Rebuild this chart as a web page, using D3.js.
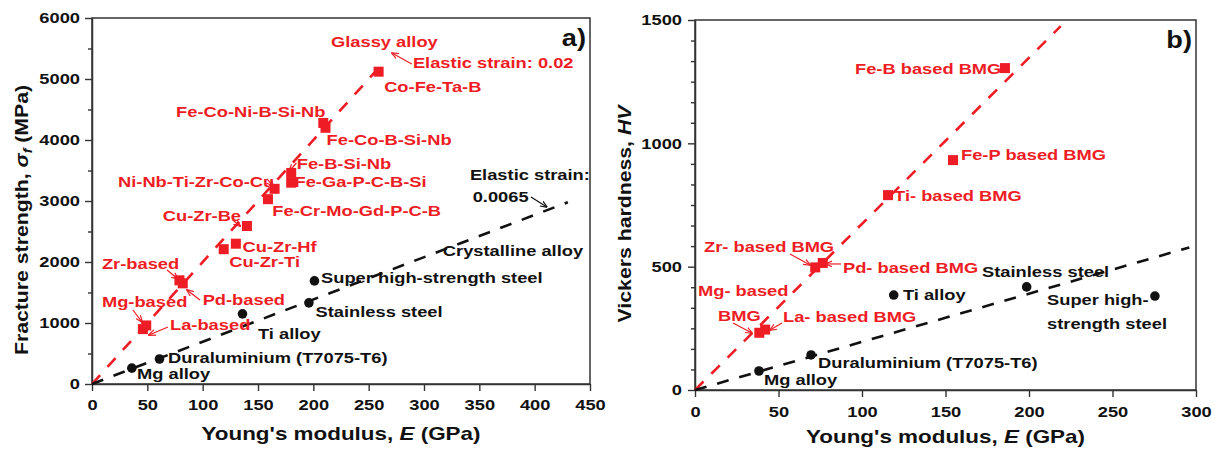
<!DOCTYPE html>
<html>
<head>
<meta charset="utf-8">
<script src="https://cdn.jsdelivr.net/npm/d3@7"></script>
<style>
  body { margin: 0; background: #fff; }
  svg text { font-family: "Liberation Sans", Arial, sans-serif; font-weight: bold; }
</style>
</head>
<body>
<script>
// ---- DATA ------------------------------------------------------------------

// panel a) fracture strength vs Young's modulus
const glassyNamesA = ["Mg-based", "La-based", "Zr-based", "Pd-based", "Cu-Zr-Ti", "Cu-Zr-Hf", "Cu-Zr-Be",
  "Fe-Cr-Mo-Gd-P-C-B", "Ni-Nb-Ti-Zr-Co-Cu", "Fe-Ga-P-C-B-Si", "Fe-B-Si-Nb", "Fe-Co-Ni-B-Si-Nb", "Fe-Co-B-Si-Nb", "Co-Fe-Ta-B"];
const glassyEA = [46, 49, 79, 82, 119, 130, 140, 159, 165, 180, 180, 209, 211, 259];
const glassyStrengthA = [900, 960, 1700, 1650, 2210, 2300, 2590, 3030, 3200, 3300, 3460, 4280, 4200, 5120];

const crystNamesA = ["Mg alloy", "Duraluminium (T7075-T6)", "Ti alloy", "Stainless steel", "Super high-strength steel"];
const crystEA = [36, 61, 136, 196, 201];
const crystStrengthA = [260, 410, 1150, 1330, 1690];

// elastic strain lines, [E, strength] end points
const glassyLineA = [[0, 0], [265, 5300]];
const crystLineA = [[0, 0], [430, 2980]];

// panel b) Vickers hardness vs Young's modulus
const glassyNamesB = ["Mg- based BMG", "La- based BMG", "Zr- based BMG", "Pd- based BMG", "Ti- based BMG", "Fe-P based BMG", "Fe-B based BMG"];
const glassyEB = [38.5, 42, 72, 76.5, 115.6, 154.5, 185.6];
const glassyHVB = [232, 245, 497, 515, 790, 932, 1305];

const crystNamesB = ["Mg alloy", "Duraluminium (T7075-T6)", "Ti alloy", "Stainless steel", "Super high-strength steel"];
const crystEB = [38.3, 69.5, 119, 198.6, 275.4];
const crystHVB = [77, 142, 385, 418, 381];

const glassyLineB = [[0, 0], [219, 1475]];
const crystLineB = [[0, 0], [296, 578]];

// tick values
const xTicksA = d3.range(0, 451, 50);
const yTicksA = d3.range(0, 6001, 1000);
const yMinorA = d3.range(500, 6000, 1000);
const xTicksB = d3.range(0, 301, 50);
const yTicksB = d3.range(0, 1501, 500);
const yMinorB = d3.range(0, 1500, 500 / 6).filter(v => v % 500 !== 0);

// ---- LABELS (text, anchor in data units, colour key) -----------------------
const labelsA = [
  ["Glassy alloy", 216, 5525, "r"], ["Elastic strain: 0.02", 290, 5180, "r"],
  ["Co-Fe-Ta-B", 264, 4787, "r"], ["Fe-Co-Ni-B-Si-Nb", 76, 4377, "r"],
  ["Fe-Co-B-Si-Nb", 212, 3918, "r"], ["Fe-B-Si-Nb", 185, 3525, "r"],
  ["Fe-Ga-P-C-B-Si", 183, 3230, "r"], ["Fe-Cr-Mo-Gd-P-C-B", 163, 2754, "r"],
  ["Ni-Nb-Ti-Zr-Co-Cu", 23.5, 3230, "r"], ["Cu-Zr-Be", 64, 2672, "r"],
  ["Cu-Zr-Hf", 136, 2164, "r"], ["Cu-Zr-Ti", 124, 1918, "r"],
  ["Zr-based", 9, 1885, "r"], ["Pd-based", 100, 1295, "r"],
  ["Mg-based", 9, 1262, "r"], ["La-based", 70.5, 885, "r"],
  ["Mg alloy", 40.7, 82, "k"], ["Duraluminium (T7075-T6)", 68.7, 344, "k"],
  ["Ti alloy", 150, 738, "k"], ["Stainless steel", 202, 1098, "k"],
  ["Super high-strength steel", 207, 1656, "k"], ["Crystalline alloy", 317, 2098, "k"],
  ["Elastic strain:", 341.5, 3344, "k"], ["0.0065", 344, 2984, "k"]
];
const leadersA = [
  [[184.7, 3623], [178.4, 3492], "r"], [[158.1, 3361], [163.6, 3246], "r"],
  [[127, 2688], [134, 2590], "r"], [[67.8, 1869], [77.7, 1721], "r"],
  [[97.6, 1377], [85.8, 1541], "r"], [[37, 1213], [45.2, 1016], "r"],
  [[68.7, 934], [51.5, 803], "r"], [[289, 5246], [271, 5426], "r"],
  [[396.7, 3066], [411, 2902], "k"]
];
const labelsB = [
  ["Fe-B based BMG", 95.8, 1281, "r"], ["Fe-P based BMG", 159.3, 932, "r"],
  ["Ti- based BMG", 119.2, 766, "r"], ["Zr- based BMG", 5.4, 559, "r"],
  ["Pd- based BMG", 88.6, 474, "r"], ["Mg- based", 1.8, 381, "r"],
  ["BMG", 13.8, 280, "r"], ["La- based BMG", 52.7, 276, "r"],
  ["Mg alloy", 41.3, 20, "k"], ["Duraluminium (T7075-T6)", 73.7, 89, "k"],
  ["Ti alloy", 124.5, 365, "k"], ["Stainless steel", 171.9, 458, "k"],
  ["Super high-", 210.8, 345, "k"], ["strength steel", 210.8, 247, "k"]
];
const leadersB = [
  [[56.9, 551], [68.9, 507], "r"], [[87.4, 511], [78.4, 511], "r"],
  [[22.8, 272], [34.1, 231], "r"], [[52.1, 272], [44.9, 243], "r"]
];

// ---- SETUP -----------------------------------------------------------------
const RED = "#ee1c24";
const INK = "#111";
const col = k => (k === "r" ? RED : INK);

const svg = d3.select("body").append("svg")
  .attr("width", 1215)
  .attr("height", 453);

const defs = svg.append("defs");
[["r", RED], ["k", INK]].forEach(([k, c]) => {
  defs.append("marker")
    .attr("id", "arrow-" + k)
    .attr("viewBox", "0 0 10 10")
    .attr("refX", 9).attr("refY", 5)
    .attr("markerWidth", 6).attr("markerHeight", 6)
    .attr("orient", "auto")
    .append("path")
    .attr("d", "M0,1 L10,5 L0,9")
    .attr("fill", "none")
    .attr("stroke", c)
    .attr("stroke-width", 1.6);
});

function drawPanel(cfg) {
  const x = d3.scaleLinear().domain(cfg.xDomain).range(cfg.xRange);
  const y = d3.scaleLinear().domain(cfg.yDomain).range(cfg.yRange);
  const g = svg.append("g");

  // frame
  g.append("rect")
    .attr("x", x(cfg.xDomain[0])).attr("y", y(cfg.yDomain[1]))
    .attr("width", x(cfg.xDomain[1]) - x(cfg.xDomain[0]))
    .attr("height", y(cfg.yDomain[0]) - y(cfg.yDomain[1]))
    .attr("fill", "none").attr("stroke", "#333").attr("stroke-width", 1.5);

  // axes
  const fmt = d3.format("d");
  const gx = g.append("g")
    .attr("transform", `translate(0,${y(cfg.yDomain[0])})`)
    .call(d3.axisBottom(x).tickValues(cfg.xTicks).tickFormat(fmt).tickSize(7).tickSizeOuter(0).tickPadding(cfg.xPad));
  const gy = g.append("g")
    .attr("transform", `translate(${x(cfg.xDomain[0])},0)`)
    .call(d3.axisLeft(y).tickValues(cfg.yTicks).tickFormat(fmt).tickSize(7).tickSizeOuter(0).tickPadding(cfg.yPad));
  const gm = g.append("g")
    .attr("transform", `translate(${x(cfg.xDomain[0])},0)`)
    .call(d3.axisLeft(y).tickValues(cfg.yMinor).tickSize(4).tickFormat(""));
  gm.select(".domain").remove();
  [gx, gy].forEach(a => {
    a.select(".domain").attr("stroke", "#333").attr("stroke-width", 1.5);
    a.selectAll("text").attr("font-size", 15.5).attr("fill", INK)
      .style("font-family", '"Liberation Sans", Arial, sans-serif').style("font-weight", "bold");
  });
  [gx, gy, gm].forEach(a => a.selectAll(".tick line").attr("stroke", "#333").attr("stroke-width", 1.4));

  // elastic strain lines
  const line = d3.line().x(d => x(d[0])).y(d => y(d[1]));
  [[cfg.glassyLine, RED], [cfg.crystLine, INK]].forEach(([pts, c]) => {
    g.append("path")
      .attr("d", line(pts))
      .attr("fill", "none")
      .attr("stroke", c)
      .attr("stroke-width", 2.6)
      .attr("stroke-dasharray", "12,11");
  });

  // leaders
  g.selectAll(".leader")
    .data(cfg.leaders)
    .join("line")
    .attr("x1", d => x(d[0][0])).attr("y1", d => y(d[0][1]))
    .attr("x2", d => x(d[1][0])).attr("y2", d => y(d[1][1]))
    .attr("stroke", d => col(d[2]))
    .attr("stroke-width", 1.2)
    .attr("marker-end", d => `url(#arrow-${d[2]})`);

  // markers
  const sq = 10;
  g.selectAll(".glassy")
    .data(d3.zip(cfg.glassyE, cfg.glassyV))
    .join("rect")
    .attr("x", d => x(d[0]) - sq / 2).attr("y", d => y(d[1]) - sq / 2)
    .attr("width", sq).attr("height", sq)
    .attr("fill", RED);
  g.selectAll(".cryst")
    .data(d3.zip(cfg.crystE, cfg.crystV))
    .join("circle")
    .attr("cx", d => x(d[0])).attr("cy", d => y(d[1]))
    .attr("r", 4.8)
    .attr("fill", INK);

  // labels
  g.selectAll(".lab")
    .data(cfg.labels)
    .join("text")
    .attr("x", d => x(d[1])).attr("y", d => y(d[2]))
    .attr("font-size", 15.5)
    .attr("fill", d => col(d[3]))
    .text(d => d[0]);

  // panel letter
  g.append("text")
    .attr("x", x(cfg.xDomain[1]) - 4).attr("y", y(cfg.yDomain[1]) + 28)
    .attr("text-anchor", "end")
    .attr("font-size", 23)
    .attr("fill", INK)
    .text(cfg.letter);

  // x title
  const xt = g.append("text")
    .attr("x", (cfg.xRange[0] + cfg.xRange[1]) / 2)
    .attr("y", cfg.xTitleY)
    .attr("text-anchor", "middle")
    .attr("font-size", 19)
    .attr("fill", INK);
  xt.append("tspan").text("Young's modulus, ");
  xt.append("tspan").attr("font-style", "italic").text("E");
  xt.append("tspan").text(" (GPa)");

  // y title
  const yt = g.append("text")
    .attr("transform", `translate(${cfg.yTitleX},${cfg.yTitleMid}) rotate(-90)`)
    .attr("text-anchor", "middle")
    .attr("font-size", 18)
    .attr("fill", INK);
  cfg.yTitle(yt);
}

drawPanel({
  xDomain: [0, 450], xRange: [92, 590],
  yDomain: [0, 6000], yRange: [384, 18],
  xTicks: xTicksA, yTicks: yTicksA, yMinor: yMinorA,
  xPad: 8, yPad: 5,
  glassyLine: glassyLineA, crystLine: crystLineA,
  glassyE: glassyEA, glassyV: glassyStrengthA,
  crystE: crystEA, crystV: crystStrengthA,
  labels: labelsA, leaders: leadersA,
  letter: "a)", xTitleY: 440, yTitleX: 28, yTitleMid: 220,
  yTitle: t => {
    t.append("tspan").text("Fracture strength, ");
    t.append("tspan").attr("font-style", "italic").text("σ");
    t.append("tspan").attr("font-style", "italic").attr("font-size", 12).attr("dy", 4).text("f");
    t.append("tspan").attr("dy", -4).text(" (MPa)");
  }
});

drawPanel({
  xDomain: [0, 300], xRange: [695, 1196],
  yDomain: [0, 1500], yRange: [390, 20],
  xTicks: xTicksB, yTicks: yTicksB, yMinor: yMinorB,
  xPad: 9, yPad: 6,
  glassyLine: glassyLineB, crystLine: crystLineB,
  glassyE: glassyEB, glassyV: glassyHVB,
  crystE: crystEB, crystV: crystHVB,
  labels: labelsB, leaders: leadersB,
  letter: "b)", xTitleY: 443, yTitleX: 631, yTitleMid: 214,
  yTitle: t => {
    t.append("tspan").text("Vickers hardness, ");
    t.append("tspan").attr("font-style", "italic").text("HV");
  }
});

// the original lettering is wider than Arial: stretch every text along its run
const SX = 1.18;
svg.selectAll("text").each(function () {
  const w = this.getComputedTextLength();
  d3.select(this).attr("textLength", w * SX).attr("lengthAdjust", "spacingAndGlyphs");
});
</script>
</body>
</html>
